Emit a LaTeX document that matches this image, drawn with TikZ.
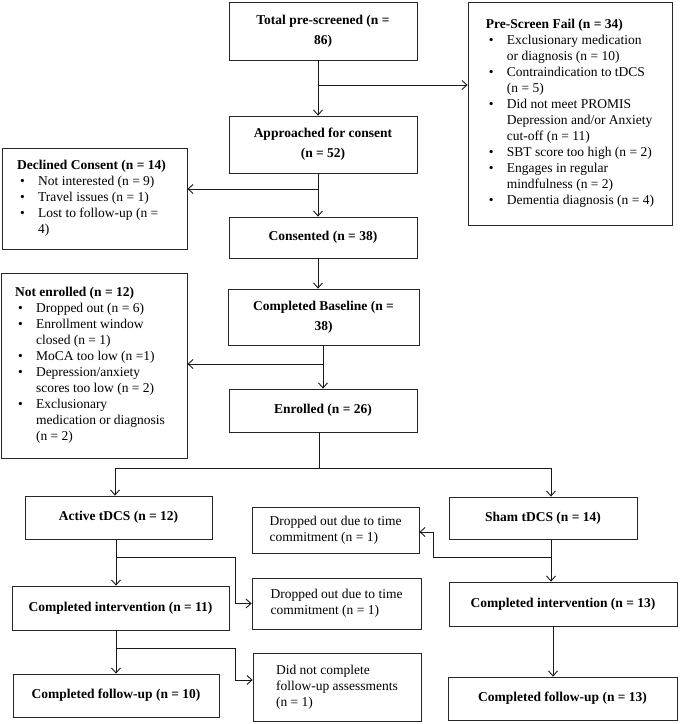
\documentclass[tikz,border=0pt]{standalone}
\usepackage{fontspec}
\setmainfont{Liberation Serif}
\usetikzlibrary{positioning,arrows.meta}
\newcommand{\bl}{\makebox[21pt][l]{\hspace{3pt}\textbullet}}

\begin{document}
\begin{tikzpicture}[x=1pt,y=-1pt,
  box/.style={draw=black!85,line width=0.8pt,inner sep=0pt,font=\fontsize{13.5}{16}\selectfont},
  mainbox/.style={box,align=center,font=\fontsize{13.5}{20}\selectfont\bfseries},
  listbox/.style={box,align=left},
  flow/.style={line width=0.9pt,draw=black!90},
  arr/.style={flow,-{Straight Barb[length=5pt,width=9pt]}}]
\useasboundingbox (0,0) rectangle (680,724);
\node[mainbox,minimum width=188pt,minimum height=58pt] (total) at (323,31) {Total pre-screened (n =\\86)};
\node[listbox,minimum width=204pt,minimum height=223pt] (prefail) at (570,113.5) {\begin{tabular}{@{}l@{}l@{}}
\multicolumn{2}{@{}l@{}}{\textbf{Pre-Screen Fail (n = 34)}}\\
\bl & Exclusionary medication\\
 & or diagnosis (n = 10)\\
\bl & Contraindication to tDCS\\
 & (n = 5)\\
\bl & Did not meet PROMIS\\
 & Depression and/or Anxiety\\
 & cut-off (n = 11)\\
\bl & SBT score too high (n = 2)\\
\bl & Engages in regular\\
 & mindfulness (n = 2)\\
\bl & Dementia diagnosis (n = 4)
\end{tabular}};
\node[mainbox,minimum width=188pt,minimum height=57pt] (approached) at (323,144.5) {Approached for consent\\(n = 52)};
\node[listbox,minimum width=185pt,minimum height=101pt] (declined) at (94.5,198.5) {\begin{tabular}{@{}l@{}l@{}}
\multicolumn{2}{@{}l@{}}{\textbf{Declined Consent (n = 14)}}\\
\bl & Not interested (n = 9)\\
\bl & Travel issues (n = 1)\\
\bl & Lost to follow-up (n =\\
 & 4)
\end{tabular}\hspace{6pt}};
\node[mainbox,minimum width=188pt,minimum height=41pt] (consented) at (323,237.5) {Consented (n = 38)};
\node[mainbox,minimum width=191pt,minimum height=56pt] (baseline) at (323.5,317) {Completed Baseline (n =\\38)};
\node[listbox,minimum width=186pt,minimum height=185pt] (notenr) at (94,365.5) {\begin{tabular}{@{}l@{}l@{}}
\multicolumn{2}{@{}l@{}}{\textbf{Not enrolled (n = 12)}}\\
\bl & Dropped out (n = 6)\\
\bl & Enrollment window\\
 & closed (n = 1)\\
\bl & MoCA too low (n =1)\\
\bl & Depression/anxiety\\
 & scores too low (n = 2)\\
\bl & Exclusionary\\
 & medication or diagnosis\\
 & (n = 2)
\end{tabular}\hspace{8pt}};
\node[mainbox,minimum width=188pt,minimum height=43pt] (enrolled) at (323,410.5) {Enrolled (n = 26)};
\node[mainbox,minimum width=187pt,minimum height=43pt] (active) at (118.5,517.5) {Active tDCS (n = 12)};
\node[mainbox,minimum width=188pt,minimum height=42pt] (sham) at (543,518) {Sham tDCS (n = 14)};
\node[listbox,minimum width=167pt,minimum height=46pt] (dropS) at (335.5,530) {Dropped out due to time\\commitment (n = 1)};
\node[mainbox,minimum width=217pt,minimum height=44pt] (intA) at (120.5,608) {Completed intervention (n = 11)};
\node[listbox,minimum width=169pt,minimum height=51pt] (dropA) at (336.5,603.5) {Dropped out due to time\\commitment (n = 1)};
\node[mainbox,minimum width=228pt,minimum height=44pt] (intS) at (563,604) {Completed intervention (n = 13)};
\node[mainbox,minimum width=206pt,minimum height=43pt] (followA) at (116,695.5) {Completed follow-up (n = 10)};
\node[listbox,minimum width=168pt,minimum height=68pt] (didnot) at (337,687) {Did not complete\\follow-up assessments\\(n = 1)\hspace{10pt}};
\node[mainbox,minimum width=229pt,minimum height=43pt] (followS) at (562.5,698.5) {Completed follow-up (n = 13)};
\coordinate (s1) at (318,85);
\coordinate (s2) at (318,189);
\coordinate (s3) at (323,364);
\coordinate (s4) at (319,468);
\coordinate (s5) at (116,557);
\coordinate (s6) at (116,648);
\coordinate (s7) at (551,557);
\draw[arr] ([xshift=-5pt]total.south) -- ([xshift=-5pt]approached.north);
\draw[arr] (s1) -- (s1 -| prefail.west);
\draw[arr] ([xshift=-5pt]approached.south) -- ([xshift=-5pt]consented.north);
\draw[arr] (s2) -- (s2 -| declined.east);
\draw[arr] ([xshift=-5pt]consented.south) -- ([xshift=-5.5pt]baseline.north);
\draw[arr] (baseline.south -| enrolled) -- (enrolled.north);
\draw[arr] (s3) -- (s3 -| notenr.east);
\draw[flow] (enrolled.south -| s4) -- (s4);
\draw[arr] (s4) -| ([xshift=-3.5pt]active.north);
\draw[arr] (s4) -| ([xshift=8pt]sham.north);
\draw[arr] (active.south -| followA.north) -- (intA.north -| followA.north);
\draw[arr] (s5) -| ([xshift=-16pt]dropA.west) -- (dropA.west);
\draw[arr] (intA.south -| followA.north) -- (followA.north);
\draw[arr] (s6) -| ([xshift=-17pt,yshift=7pt]didnot.west) -- ([yshift=7pt]didnot.west);
\draw[arr] ([xshift=8pt]sham.south) -- ([xshift=8pt]sham.south |- intS.north);
\draw[arr] (s7) -| ([xshift=14pt,yshift=-2pt]dropS.east) -- ([yshift=-2pt]dropS.east);
\draw[arr] ([xshift=-10pt]intS.south) -- ([xshift=-10pt]intS.south |- followS.north);
\end{tikzpicture}
\end{document}
